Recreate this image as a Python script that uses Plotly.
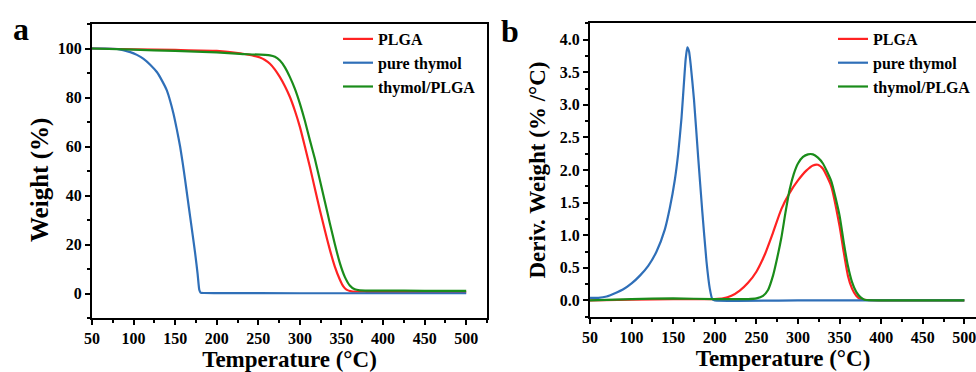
import plotly.graph_objects as go

# ---------------- data: panel a (TGA) ----------------
thymol_T = [50, 65, 80, 96, 104, 112, 120, 128, 134, 140, 144, 148, 152, 156, 159, 162, 165, 168, 171, 174, 177, 179, 180.5, 185, 200, 300, 400, 500]
thymol_W = [100, 100, 99.8, 98.5, 97.4, 95.8, 93.4, 90.4, 87.0, 82.9, 78.6, 73.4, 67.0, 59.9, 53.4, 46.3, 38.8, 31.4, 24.0, 16.5, 8.0, 1.5, 0.4, 0.2, 0.15, 0.1, 0.1, 0.1]

plga_T = [50, 100, 150, 200, 228, 245, 252, 258, 264, 270, 276, 282, 288, 294, 300, 306, 312, 318, 324, 330, 336, 342, 348, 352, 356, 362, 380, 450, 500]
plga_W = [100, 99.7, 99.4, 99.0, 98.0, 97.0, 96.3, 95.3, 93.8, 91.4, 88.3, 84.6, 80.2, 74.6, 68.0, 60.0, 51.7, 42.9, 34.1, 25.8, 17.9, 11.0, 5.7, 3.0, 1.6, 0.9, 0.7, 0.6, 0.6]

blend_T = [50, 100, 150, 200, 228, 264, 270, 276, 282, 288, 294, 300, 306, 312, 318, 324, 330, 336, 342, 348, 354, 360, 366, 372, 400, 450, 500]
blend_W = [100, 99.5, 99.0, 98.4, 97.8, 97.2, 96.6, 95.1, 92.3, 88.3, 83.5, 77.5, 70.5, 62.6, 55.0, 46.3, 37.6, 28.7, 20.2, 12.5, 6.8, 3.3, 1.7, 1.3, 1.2, 1.1, 1.1]

# ---------------- data: panel b (DTG) ----------------
thymol_dT = [50, 60, 70, 80, 90, 100, 110, 120, 130, 140, 146, 152, 156, 160, 163, 165, 167, 169, 171, 175, 180, 185, 190, 194, 197, 200, 300, 400, 500]
thymol_dW = [0.04, 0.04, 0.06, 0.11, 0.17, 0.26, 0.38, 0.53, 0.75, 1.09, 1.42, 1.85, 2.25, 2.80, 3.35, 3.70, 3.88, 3.82, 3.62, 3.08, 2.20, 1.36, 0.60, 0.18, 0.02, 0.0, 0.0, 0.0, 0.0]

plga_dT = [50, 100, 150, 200, 210, 220, 230, 240, 250, 260, 270, 280, 290, 300, 310, 318, 324, 330, 340, 350, 355, 360, 365, 370, 375, 380, 400, 500]
plga_dW = [0.0, 0.01, 0.02, 0.02, 0.03, 0.07, 0.15, 0.27, 0.44, 0.70, 1.04, 1.40, 1.65, 1.84, 1.99, 2.07, 2.08, 2.02, 1.75, 1.14, 0.74, 0.38, 0.18, 0.07, 0.02, 0.01, 0.0, 0.0]

blend_dT = [50, 100, 150, 200, 240, 250, 258, 264, 270, 275, 280, 285, 290, 295, 300, 306, 312, 318, 324, 330, 340, 350, 355, 360, 365, 370, 375, 380, 400, 500]
blend_dW = [0.0, 0.02, 0.03, 0.02, 0.02, 0.03, 0.07, 0.16, 0.38, 0.65, 0.96, 1.35, 1.70, 1.94, 2.10, 2.20, 2.24, 2.24, 2.19, 2.10, 1.83, 1.30, 0.89, 0.53, 0.28, 0.13, 0.05, 0.01, 0.0, 0.0]

names = ["PLGA", "pure thymol", "thymol/PLGA"]
colors = ["#ff2222", "#2f6fb8", "#1a8c1a"]

FONT = "Liberation Serif"

fig = go.Figure()

tga = [(plga_T, plga_W), (thymol_T, thymol_W), (blend_T, blend_W)]
dtg = [(plga_dT, plga_dW), (thymol_dT, thymol_dW), (blend_dT, blend_dW)]

for (x, y), n, c in zip(tga, names, colors):
    fig.add_trace(go.Scatter(x=x, y=y, name=n, mode="lines",
                             line=dict(color=c, width=2.2, shape="spline", smoothing=0.5),
                             xaxis="x", yaxis="y", legend="legend"))
for (x, y), n, c in zip(dtg, names, colors):
    fig.add_trace(go.Scatter(x=x, y=y, name=n, mode="lines",
                             line=dict(color=c, width=2.2, shape="spline", smoothing=0.5),
                             xaxis="x2", yaxis="y2", legend="legend2"))

W, H = 976, 372
def px(v): return v / W
def py(v): return 1 - v / H

tickfont = dict(family=FONT, size=16, color="black", weight="bold")
titlefont = dict(family=FONT, size=23, color="black", weight="bold")
legfont = dict(family=FONT, size=16, color="black", weight="bold")

common_x = dict(range=[50, 525], tickmode="array", tickvals=list(range(50, 501, 50)),
                ticks="outside", ticklen=5, tickwidth=1.5, tickcolor="black",
                showline=True, linecolor="black", linewidth=2, showgrid=False, zeroline=False,
                automargin=False, ticklabeloverflow="allow",
                tickfont=tickfont, title=dict(text="Temperature (°C)", font=titlefont, standoff=2),
                minor=dict(tickvals=list(range(75, 526, 50)), ticks="outside", ticklen=3, tickcolor="black", tickwidth=1.5))

fig.update_layout(
    width=W, height=H, margin=dict(l=0, r=0, t=0, b=0, autoexpand=False),
    paper_bgcolor="white", plot_bgcolor="white",
    xaxis=dict(domain=[px(92), px(487)], anchor="y", mirror=True, **common_x),
    yaxis=dict(domain=[py(318), py(24)], anchor="x", range=[-10, 110],
               tickmode="array", tickvals=[0, 20, 40, 60, 80, 100],
               ticks="outside", ticklen=5, tickwidth=1.5, tickcolor="black",
               minor=dict(tickvals=[-10, 10, 30, 50, 70, 90, 110], ticks="outside", ticklen=3, tickcolor="black", tickwidth=1.5),
               showline=True, linecolor="black", linewidth=2, mirror=True, showgrid=False, zeroline=False,
               automargin=False, tickfont=tickfont),
    xaxis2=dict(domain=[px(590), 1.0], anchor="y2", mirror=True, **{**common_x, "range": [50, 514]}),
    yaxis2=dict(domain=[py(316.7), py(23.3)], anchor="x2", range=[-0.25, 4.25],
                tickmode="array", tickvals=[0, 0.5, 1.0, 1.5, 2.0, 2.5, 3.0, 3.5, 4.0],
                ticktext=["0.0", "0.5", "1.0", "1.5", "2.0", "2.5", "3.0", "3.5", "4.0"],
                ticks="outside", ticklen=5, tickwidth=1.5, tickcolor="black",
                minor=dict(tickvals=[-0.25, 0.25, 0.75, 1.25, 1.75, 2.25, 2.75, 3.25, 3.75, 4.25], ticks="outside", ticklen=3, tickcolor="black", tickwidth=1.5),
                showline=True, linecolor="black", linewidth=2, mirror=False, showgrid=False, zeroline=False,
                automargin=False,
                tickfont=tickfont, title=dict(text="Deriv. Weight (% /°C)", font=titlefont, standoff=8)),
    legend=dict(x=px(338), y=py(22), xanchor="left", yanchor="top", bgcolor="rgba(0,0,0,0)",
                font=legfont, tracegroupgap=0, itemwidth=30),
    legend2=dict(x=px(833), y=py(22), xanchor="left", yanchor="top", bgcolor="rgba(0,0,0,0)",
                 font=legfont, tracegroupgap=0, itemwidth=30),
    annotations=[
        dict(text="a", x=px(11), y=py(29), xref="paper", yref="paper", xanchor="left", yanchor="middle",
             showarrow=False, font=dict(family=FONT, size=32, color="black", weight="bold")),
        dict(text="b", x=px(499), y=py(31), xref="paper", yref="paper", xanchor="left", yanchor="middle",
             showarrow=False, font=dict(family=FONT, size=32, color="black", weight="bold")),
        dict(text="Weight (%)", x=px(40), y=py(180), xref="paper", yref="paper", xanchor="center", yanchor="middle",
             textangle=-90, showarrow=False, font=dict(family=FONT, size=25, color="black", weight="bold")),
    ],
)

fig.write_html("out.html", config={"displayModeBar": False},
               post_script="document.body.style.margin='0';document.body.style.overflow='hidden';")
